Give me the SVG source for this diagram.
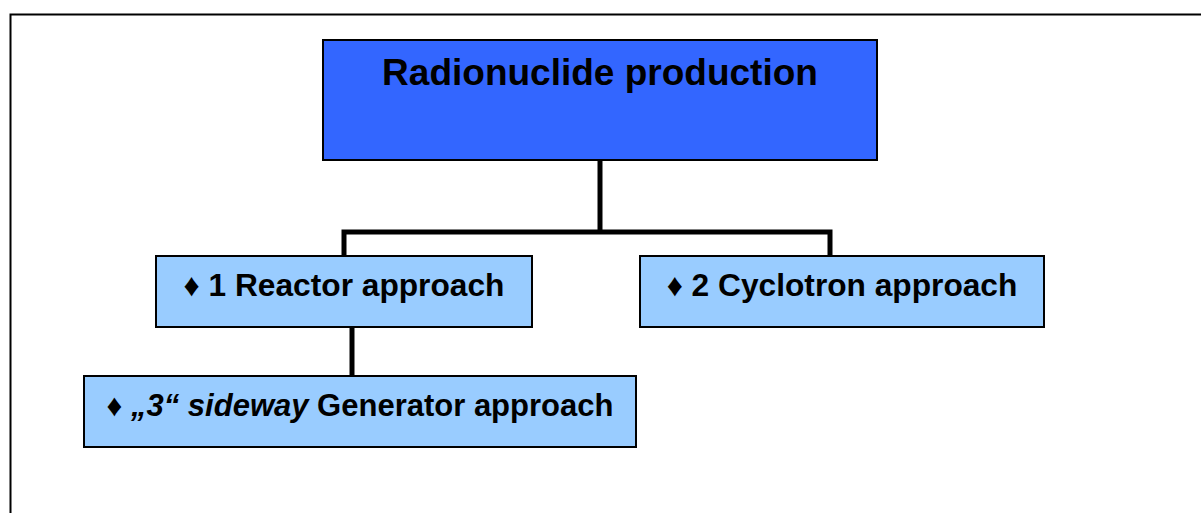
<svg xmlns="http://www.w3.org/2000/svg" width="1201" height="513" viewBox="0 0 1201 513">
  <style>
    .frame { fill: none; stroke: #000; stroke-width: 2; }
    .box { stroke: #000; stroke-width: 2; }
    .root { fill: #3366FF; }
    .leaf { fill: #99CCFF; }
    .link { fill: none; stroke: #000; stroke-width: 5; stroke-linejoin: miter; }
    text { font-family: "Liberation Sans", Arial, sans-serif; font-weight: bold; fill: #000; text-anchor: middle; }
    .title { font-size: 37px; }
    .label { font-size: 31.7px; }
    .label-long { font-size: 31px; }
  </style>
  <rect width="1201" height="513" fill="#fff"/>
  <path class="frame" d="M10.5,513 V14.5 H1201"/>

  <g id="connectors">
    <path class="link" d="M600,160 V232"/>
    <path class="link" d="M344,256 V232 H830 V256"/>
    <path class="link" d="M352,327 V376"/>
  </g>

  <g id="node-root">
    <rect class="box root" x="323" y="40" width="554" height="120"/>
    <text class="title" x="600" y="85">Radionuclide production</text>
  </g>

  <g id="node-reactor">
    <rect class="box leaf" x="156" y="256" width="376" height="71"/>
    <text class="label" x="344" y="296">♦ 1 Reactor approach</text>
  </g>

  <g id="node-cyclotron">
    <rect class="box leaf" x="640" y="256" width="404" height="71"/>
    <text class="label" x="842" y="296">♦ 2 Cyclotron approach</text>
  </g>

  <g id="node-generator">
    <rect class="box leaf" x="84" y="376" width="552" height="71"/>
    <text class="label-long" x="360" y="416">♦ <tspan font-style="italic">„3“ sideway</tspan> Generator approach</text>
  </g>
</svg>
